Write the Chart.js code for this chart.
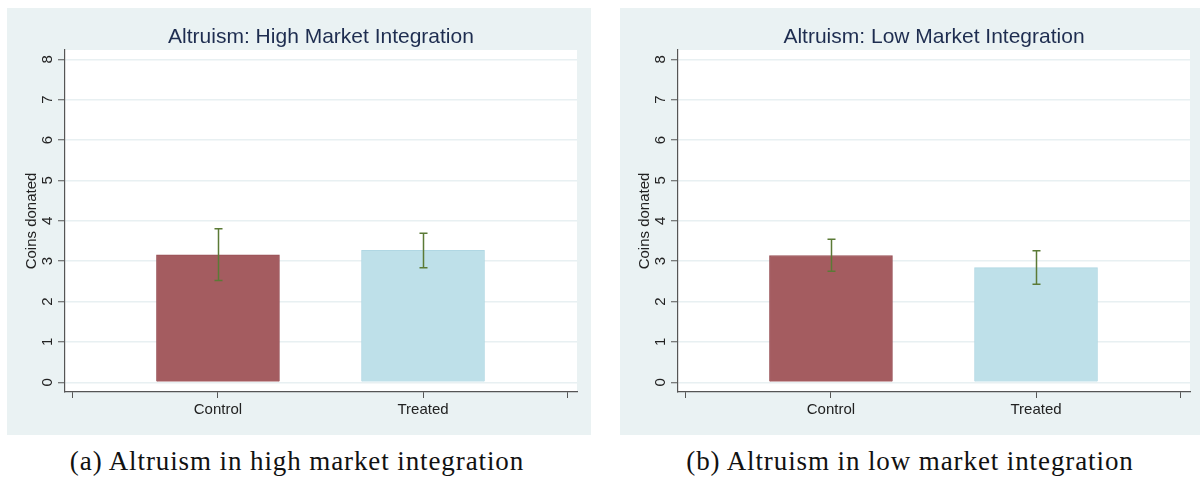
<!DOCTYPE html>
<html>
<head>
<meta charset="utf-8">
<script src="https://cdn.jsdelivr.net/npm/chart.js@4.4.1/dist/chart.umd.min.js"></script>
<style>
  html, body { margin: 0; padding: 0; background: #fff; }
  body { width: 1200px; height: 479px; position: relative; overflow: hidden; }
  .panel { position: absolute; top: 8px; height: 427px; background: #eaf2f3; }
  #panelA { left: 7px; width: 584px; }
  #panelB { left: 620px; width: 580px; }
  .caption {
    position: absolute; top: 448px; height: 27px; line-height: 27px;
    font-family: "Liberation Serif", "Times New Roman", serif; font-size: 27px;
    letter-spacing: 0.9px;
    color: #111; text-align: center; white-space: nowrap;
  }
  #capA { left: 0; width: 594px; }
  #capB { left: 620px; width: 580px; }
</style>
</head>
<body>
<div class="panel" id="panelA"><canvas id="chartA" width="584" height="427"></canvas></div>
<div class="panel" id="panelB"><canvas id="chartB" width="580" height="427"></canvas></div>
<div class="caption" id="capA">(a) Altruism in high market integration</div>
<div class="caption" id="capB">(b) Altruism in low market integration</div>

<script>
// Chart data
const categories = ["Control", "Treated"];
const xPositions = [1, 2];

const highMeans = [3.16, 3.27];
const highLower = [2.52, 2.84];
const highUpper = [3.80, 3.69];

const lowMeans = [3.14, 2.84];
const lowLower = [2.75, 2.43];
const lowUpper = [3.54, 3.26];

const yTicks = [0, 1, 2, 3, 4, 5, 6, 7, 8];
const xTicks = [0.293, 1, 2, 2.707];
const xTickLabels = ["", ...categories, ""];

const barColors = ["rgb(164, 92, 96)", "rgb(190, 224, 233)"];
const barBorders = ["rgb(152, 80, 86)", "rgb(176, 215, 227)"];

const FONT = "Liberation Sans, Arial, sans-serif";

// white plot region
const plotBackground = {
  id: "plotBackground",
  beforeDraw(chart) {
    const { ctx, chartArea } = chart;
    ctx.save();
    ctx.fillStyle = "#ffffff";
    ctx.fillRect(chartArea.left, chartArea.top, chartArea.width, chartArea.height);
    ctx.restore();
  },
};

// confidence interval whiskers
const errorBars = {
  id: "errorBars",
  afterDatasetsDraw(chart, args, opts) {
    const ctx = chart.ctx;
    const xs = chart.scales.x;
    const ys = chart.scales.y;
    const data = chart.data.datasets[0].data;
    ctx.save();
    ctx.strokeStyle = "#5b7a36";
    ctx.lineWidth = 1.5;
    data.forEach((d, i) => {
      const px = Math.round(xs.getPixelForValue(d.x)) + 0.5;
      const top = ys.getPixelForValue(opts.upper[i]);
      const bot = ys.getPixelForValue(opts.lower[i]);
      ctx.beginPath();
      ctx.moveTo(px, top);
      ctx.lineTo(px, bot);
      ctx.moveTo(px - 4, top);
      ctx.lineTo(px + 4, top);
      ctx.moveTo(px - 4, bot);
      ctx.lineTo(px + 4, bot);
      ctx.stroke();
    });
    ctx.restore();
  },
};

function makeChart(canvasId, title, means, lower, upper, rightPad) {
  const ctx = document.getElementById(canvasId);
  return new Chart(ctx, {
    type: "bar",
    data: {
      datasets: [
        {
          data: xPositions.map((x, i) => ({ x: x, y: means[i] })),
          backgroundColor: barColors,
          borderColor: barBorders,
          borderWidth: 1,
          barThickness: 123,
        },
      ],
    },
    plugins: [plotBackground, errorBars],
    options: {
      responsive: false,
      animation: false,
      layout: { padding: { left: 0, right: rightPad, top: 0, bottom: 0 } },
      plugins: {
        legend: { display: false },
        tooltip: { enabled: false },
        title: {
          display: true,
          text: title,
          fullSize: false,
          color: "#1e2d50",
          font: { family: FONT, size: 21, weight: "normal", lineHeight: 1.1 },
          padding: { top: 17.5, bottom: 1.4 },
        },
        errorBars: { lower: lower, upper: upper },
      },
      scales: {
        x: {
          type: "linear",
          min: 0.254,
          max: 2.751,
          offset: false,
          afterBuildTicks: (s) => {
            s.ticks = xTicks.map((v) => ({ value: v }));
          },
          afterFit: (s) => {
            s.height = 43;
          },
          grid: { offset: false, drawOnChartArea: false, tickLength: 6, tickColor: "#555", tickWidth: 1 },
          border: { display: true, color: "#555", width: 1.2 },
          ticks: {
            autoSkip: false,
            maxRotation: 0,
            padding: 3,
            color: "#222",
            font: { family: FONT, size: 15 },
            callback: (v, i) => xTickLabels[i],
          },
        },
        y: {
          min: -0.24,
          max: 8.23,
          afterBuildTicks: (s) => {
            s.ticks = yTicks.map((v) => ({ value: v }));
          },
          afterFit: (s) => {
            s.width = 58;
          },
          grid: { color: "#e8f0f2", lineWidth: 1.5, tickColor: "#555", tickLength: 7, tickWidth: 1 },
          border: { display: true, color: "#555", width: 1.2 },
          ticks: {
            minRotation: 90,
            maxRotation: 90,
            crossAlign: "center",
            padding: 6,
            color: "#222",
            font: { family: FONT, size: 15 },
          },
          title: {
            display: true,
            text: "Coins donated",
            color: "#222",
            font: { family: FONT, size: 15 },
            padding: { top: 16, bottom: 0 },
          },
        },
      },
    },
  });
}

makeChart("chartA", "Altruism: High Market Integration", highMeans, highLower, highUpper, 14);
makeChart("chartB", "Altruism: Low Market Integration", lowMeans, lowLower, lowUpper, 10);
</script>
</body>
</html>
